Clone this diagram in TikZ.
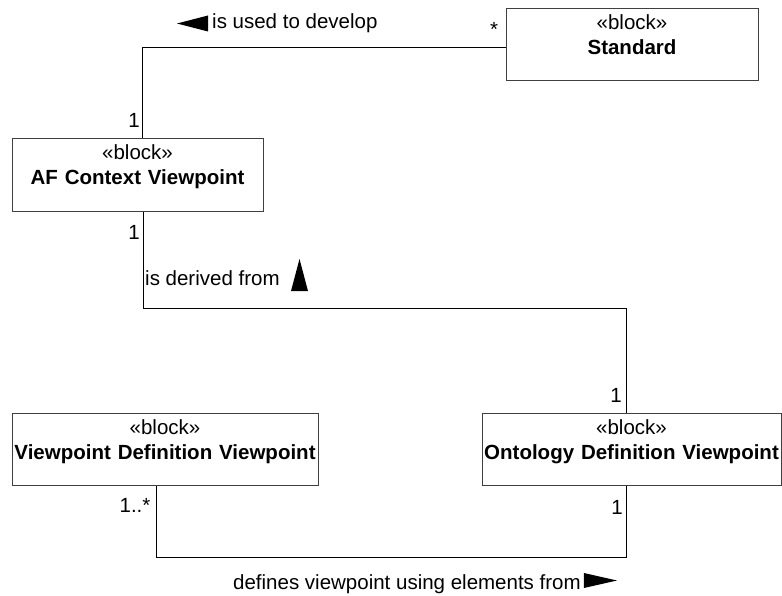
\documentclass[tikz,border=0pt]{standalone}
\usepackage{fontspec}
\setmainfont{Liberation Sans}

\begin{document}
\begin{tikzpicture}[x=1pt, y=-1pt,
    every node/.style={font=\fontsize{20.5}{25}\selectfont},
    block/.style={draw=black!75, line width=1pt, anchor=north, align=center, inner xsep=0pt, inner ysep=0pt, text height=21pt, text depth=51pt},
    mult/.style={inner sep=0pt},
    role/.style={anchor=base west, inner sep=0pt},
    assoc/.style={line width=1pt}]

        \useasboundingbox (0,0) rectangle (782,596);

        \node[block, text width=252pt]         (std) at (632, 8)        {«block»\\\textbf{Standard}};
        \node[block, text width=251pt, text depth=52pt] (afc) at (137.5, 138) {«block»\\\textbf{AF Context Viewpoint}};
        \node[block, text width=306pt]         (vdv) at (165, 413)      {«block»\\\textbf{Viewpoint Definition Viewpoint}};
        \node[block, text width=299pt]         (odv) at (631.5, 413)    {«block»\\\textbf{Ontology Definition Viewpoint}};


        \draw[assoc] ([yshift=-3pt]std.west) -| ([xshift=5pt]afc.north);
        \draw[assoc] ([xshift=5.5pt]afc.south) -- ++(0,96) -| ([xshift=-5.5pt]odv.north);
        \draw[assoc] ([xshift=-9pt]vdv.south) -- ++(0,71) -| ([xshift=-5.5pt]odv.south);


        \node[mult]    (m1) at (494, 29)     {*};
        \node[mult]    (m2) at (134, 120)    {1};
        \node[mult]    (m3) at (134, 232)    {1};
        \node[mult]    (m4) at (616, 395)    {1};
        \node[mult]    (m5) at (135, 505)    {1..*};
        \node[mult]    (m6) at (617, 507)    {1};


        \node[role]    (l1) at (212, 29)     {is used to develop};
        \node[role]    (l2) at (145, 285)    {is derived from};
        \node[role]    (l3) at (233, 589)    {defines viewpoint using elements from};

        % direction marks
        \fill (177,23.5) -- (208,15.5) -- (208,31.5) -- cycle;
        \fill (299.5,259) -- (308,291) -- (291,291) -- cycle;
        \fill ([xshift=3pt,yshift=1pt]l3.base east) -- ++(0,-15) -- ++(33,7.5) -- cycle;
      \end{tikzpicture}
\end{document}
